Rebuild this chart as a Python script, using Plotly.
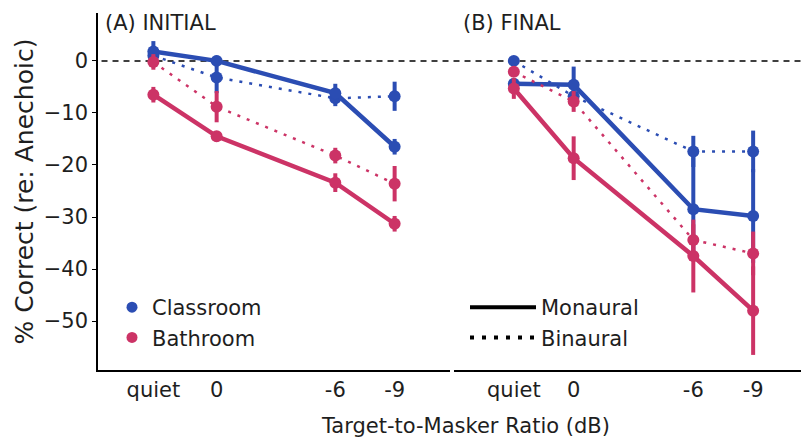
import plotly.graph_objects as go

# ---------------- data ----------------
tmr_labels = ["quiet", "0", "-6", "-9"]

# Panel A (INITIAL)
a_class_mono = [1.8, 0.0, -6.2, -16.5]
a_class_mono_err = [2.0, 1.0, 1.8, 1.5]
a_class_bin = [1.0, -3.2, -7.2, -6.8]
a_class_bin_err = [1.5, 3.0, 1.5, 2.8]
a_bath_mono = [-6.5, -14.5, -23.4, -31.3]
a_bath_mono_err = [1.5, 1.0, 1.8, 1.5]
a_bath_bin = [-0.2, -8.8, -18.2, -23.6]
a_bath_bin_err = [1.5, 3.0, 1.5, 3.4]

# Panel B (FINAL)
b_class_mono = [-4.4, -4.6, -28.5, -29.8]
b_class_mono_err = [1.0, 3.5, 10.0, 9.0]
b_class_bin = [0.0, -6.8, -17.4, -17.4]
b_class_bin_err = [0.8, 1.5, 3.0, 4.0]
b_bath_mono = [-5.3, -18.7, -37.5, -48.0]
b_bath_mono_err = [2.0, 4.2, 7.0, 8.5]
b_bath_bin = [-2.1, -7.8, -34.4, -37.0]
b_bath_bin_err = [1.0, 2.0, 3.0, 4.2]

y_ticks = [0, -10, -20, -30, -40, -50]

# ---------------- style ----------------
BLUE = "#2B4DB3"
PINK = "#CC3366"
TXT = "#1E1E1E"
FONT = "DejaVu Sans"
FS = 21
QUIET_A = 3.2
QUIET_B = 3.0


def xpos(labels, quiet):
    return [quiet if l == "quiet" else float(l) for l in labels]


xa = xpos(tmr_labels, QUIET_A)
xb = xpos(tmr_labels, QUIET_B)

fig = go.Figure()


def add_series(x, y, err, color, dotted, xaxis):
    fig.add_trace(go.Scatter(
        x=x, y=y, xaxis=xaxis, yaxis="y",
        mode="lines+markers",
        line=dict(color=color, width=2.5 if dotted else 4.5,
                  dash="3px,7px" if dotted else "solid"),
        marker=dict(color=color, size=12, symbol="circle"),
        error_y=dict(type="data", array=err, visible=True, color=color,
                     thickness=4, width=0),
        showlegend=False, hoverinfo="skip"))


for xax, x, data in [
    ("x", xa, [(a_class_bin, a_class_bin_err, BLUE, True),
               (a_class_mono, a_class_mono_err, BLUE, False),
               (a_bath_bin, a_bath_bin_err, PINK, True),
               (a_bath_mono, a_bath_mono_err, PINK, False)]),
    ("x2", xb, [(b_class_bin, b_class_bin_err, BLUE, True),
                (b_class_mono, b_class_mono_err, BLUE, False),
                (b_bath_bin, b_bath_bin_err, PINK, True),
                (b_bath_mono, b_bath_mono_err, PINK, False)]),
]:
    for y, e, c, d in data:
        add_series(x, y, e, c, d, xax)

# legend traces (room)
for name, c in [("Classroom", BLUE), ("Bathroom", PINK)]:
    fig.add_trace(go.Scatter(x=[None], y=[None], xaxis="x", yaxis="y",
                             mode="markers", name=name,
                             marker=dict(color=c, size=11),
                             legend="legend"))
# legend traces (listening)
for name, d in [("Monaural", "solid"), ("Binaural", "4px,8px")]:
    fig.add_trace(go.Scatter(x=[None], y=[None], xaxis="x2", yaxis="y",
                             mode="lines", name=name,
                             line=dict(color="black", width=4, dash=d),
                             legend="legend2"))

W, H = 801, 440
L, R, T, B = 98, 0, 13, 70
pw = W - L - R
ph = H - T - B
a_end = (450 - L) / pw
b_start = (454 - L) / pw

axis_common = dict(showgrid=False, zeroline=False, showline=True,
                   linecolor="black", linewidth=1.5, mirror=False)

fig.update_layout(
    width=W, height=H,
    margin=dict(l=L, r=R, t=T, b=B),
    paper_bgcolor="white", plot_bgcolor="white",
    font=dict(family=FONT, size=FS, color=TXT),
    xaxis=dict(domain=[0, a_end], range=[6, -11.8], tickvals=xa,
               ticktext=tmr_labels, ticks="", anchor="y", **axis_common),
    xaxis2=dict(domain=[b_start, 1], range=[6, -11.4], tickvals=xb,
                ticktext=tmr_labels, ticks="", anchor="y2", **axis_common),
    yaxis=dict(domain=[0, 1], range=[-59.4, 9.2], tickvals=y_ticks,
               ticks="outside", ticklen=4, tickcolor="black",
               title=dict(text="% Correct (re: Anechoic)", standoff=3),
               anchor="x", **axis_common),
    yaxis2=dict(domain=[0, 1], range=[-59.4, 9.2], tickvals=y_ticks,
                ticks="inside", ticklen=7, tickcolor="black",
                showticklabels=False, anchor="x2", matches="y",
                **axis_common),
    legend=dict(x=(112 - L) / pw, y=(370 - 287) / ph, xanchor="left",
                yanchor="top", bgcolor="rgba(0,0,0,0)",
                font=dict(size=FS), tracegroupgap=0, itemwidth=30),
    legend2=dict(x=(465 - L) / pw, y=(370 - 287) / ph, xanchor="left",
                 yanchor="top", bgcolor="rgba(0,0,0,0)",
                 font=dict(size=FS), tracegroupgap=0, itemwidth=66),
    showlegend=True,
)

# reference dashed line at 0
fig.add_shape(type="line", xref="paper", yref="y", x0=0.005, x1=1,
              y0=0, y1=0, line=dict(color="black", width=1.5, dash="6px,5px"),
              layer="below")

fig.add_annotation(text="(A) INITIAL", xref="paper", yref="paper",
                   x=(103 - L) / pw, y=1.0 + 4 / ph, xanchor="left",
                   yanchor="top", showarrow=False,
                   font=dict(size=FS, family=FONT, color=TXT))
fig.add_annotation(text="(B) FINAL", xref="paper", yref="paper",
                   x=(461 - L) / pw, y=1.0 + 4 / ph, xanchor="left",
                   yanchor="top", showarrow=False,
                   font=dict(size=FS, family=FONT, color=TXT))
fig.add_annotation(text="Target-to-Masker Ratio (dB)", xref="paper",
                   yref="paper", x=(465 - L) / pw, y=(370 - 412) / ph,
                   xanchor="center", yanchor="top", showarrow=False,
                   font=dict(size=FS, family=FONT, color=TXT))

fig.write_html("out.html")
